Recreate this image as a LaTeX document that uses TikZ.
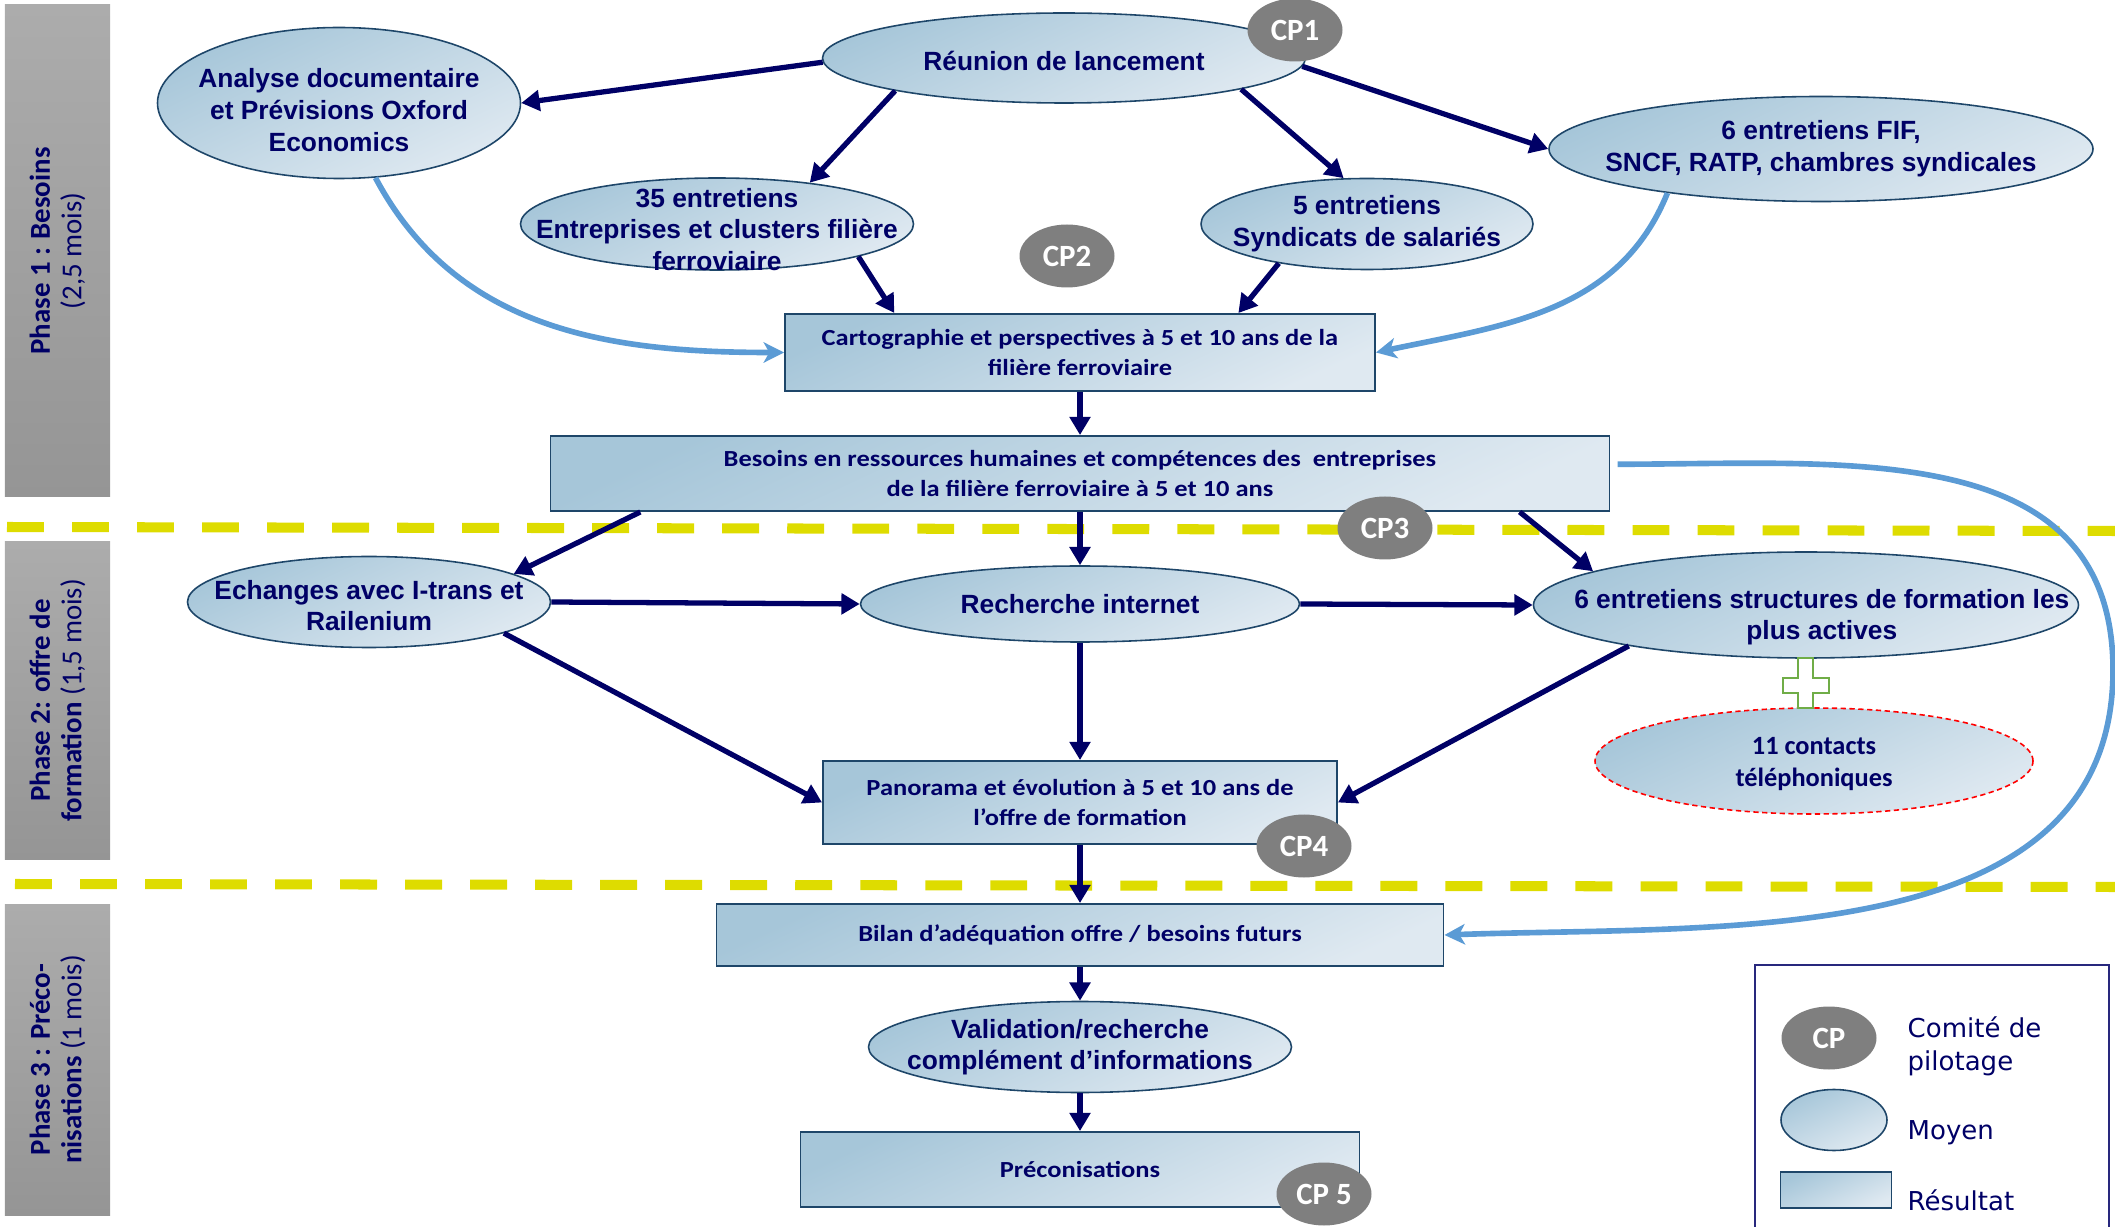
\documentclass[tikz,border=0pt]{standalone}
\usepackage{fontspec}
\setmainfont{Carlito}
\newfontfamily\arialfont{Liberation Sans}
\newfontfamily\resfont[FakeStretch=1.15]{Carlito}
\newfontfamily\legfont{DejaVu Sans}
\usetikzlibrary{shapes.geometric,arrows.meta}

\definecolor{navy}{RGB}{0,0,102}
\definecolor{moyA}{RGB}{166,198,217}
\definecolor{moyB}{RGB}{223,233,241}
\definecolor{bord}{RGB}{30,70,105}
\definecolor{cpgris}{RGB}{127,127,127}
\definecolor{phA}{RGB}{172,172,172}
\definecolor{phB}{RGB}{149,149,149}
\definecolor{lienbleu}{RGB}{91,155,213}
\definecolor{jaune}{RGB}{222,220,0}
\definecolor{vert}{RGB}{112,173,71}
\definecolor{legbord}{RGB}{40,40,125}

\tikzset{
	moyen/.style={ellipse, draw=bord, line width=0.45pt, top color=moyA, bottom color=moyB, shading angle=25, inner sep=0pt},
	moytxt/.style={font=\arialfont\bfseries\fontsize{7.5}{9}\selectfont, text=navy, align=center},
	resultat/.style={rectangle, draw=bord, line width=0.55pt, top color=moyA, bottom color=moyB, shading angle=25, inner sep=0pt, font=\resfont\bfseries\fontsize{6.55}{8.8}\selectfont, text=navy, align=center},
	cp/.style={ellipse, fill=cpgris, inner sep=0pt, minimum width=0.95cm, minimum height=0.63cm, text=white, font=\bfseries\fontsize{8.8}{10}\selectfont},
	phase/.style={rectangle, rotate=90, top color=phA, bottom color=phB, inner sep=0pt, minimum height=1.05cm, text=navy, align=center, font=\fontsize{8.2}{9}\selectfont},
	fleche/.style={draw=navy, line width=1.5pt, -{Triangle[length=5.2pt,width=5.8pt]}},
	retour/.style={draw=lienbleu, line width=1.6pt, -{Stealth[length=5.8pt,width=5.8pt,inset=1.6pt]}},
	separ/.style={draw=jaune, line width=2.85pt, dash pattern=on 10.5pt off 8pt},
	legtxt/.style={anchor=west, inner sep=0pt, text=navy, align=left, font=\legfont\fontsize{7.4}{9.4}\selectfont},
}

\begin{document}
\begin{tikzpicture}
	\useasboundingbox (0,0) rectangle (21.15,12.26);

	% Separateurs
	\draw[separ] (0.07,6.99) -- (21.15,6.95);
	\draw[separ] (0.15,3.42) -- (21.15,3.39);

	% Phases
	\node[phase, minimum width=4.92cm] (ph1) at (0.575,9.75) {\textbf{Phase 1 : Besoins}\\(2,5 mois)};
	\node[phase, minimum width=3.17cm] (ph2) at (0.575,5.255) {\textbf{Phase 2: offre de}\\\textbf{formation} (1,5 mois)};
	\node[phase, minimum width=3.11cm] (ph3) at (0.575,1.665) {\textbf{Phase 3 : Préco-}\\\textbf{nisations} (1 mois)};

	% Nodes
	\node[moyen, minimum width=4.83cm, minimum height=0.90cm, label={[moytxt, yshift=-0.8pt]center:Réunion de lancement}] (reunion) at (10.64,11.68) {};
	\node[moyen, minimum width=3.63cm, minimum height=1.51cm, label={[moytxt, yshift=-2pt]center:{Analyse documentaire\\et Prévisions Oxford\\Economics}}] (analyse) at (3.39,11.23) {};
	\node[moyen, minimum width=3.93cm, minimum height=0.92cm, label={[moytxt, yshift=-1.5pt]center:{35 entretiens\\Entreprises et clusters filière\\ferroviaire}}] (e35) at (7.17,10.02) {};
	\node[moyen, minimum width=3.32cm, minimum height=0.91cm, label={[moytxt]center:{5 entretiens\\Syndicats de salariés}}] (e5) at (13.67,10.02) {};
	\node[moyen, minimum width=5.44cm, minimum height=1.05cm, label={[moytxt]center:{6 entretiens FIF,\\SNCF, RATP, chambres syndicales}}] (e6fif) at (18.21,10.77) {};
	\node[resultat, minimum width=5.90cm, minimum height=0.77cm] (carto) at (10.80,8.735) {Cartographie et perspectives à 5 et 10 ans de la\\filière ferroviaire};
	\node[resultat, minimum width=10.59cm, minimum height=0.75cm] (besoins) at (10.80,7.525) {Besoins en ressources humaines et compétences des~ entreprises\\de la filière ferroviaire à 5 et 10 ans};
	\node[moyen, minimum width=3.63cm, minimum height=0.91cm, label={[moytxt, yshift=-1pt]center:{Echanges avec I-trans et\\Railenium}}] (echanges) at (3.69,6.24) {};
	\node[moyen, minimum width=4.39cm, minimum height=0.76cm, label={[moytxt]center:Recherche internet}] (recherche) at (10.80,6.22) {};
	\node[moyen, minimum width=5.45cm, minimum height=1.06cm, label={[moytxt, xshift=4.5pt, yshift=-3.5pt]center:{6 entretiens structures de formation les\\plus actives}}] (e6form) at (18.06,6.21) {};
	\node[moyen, draw=red, dash pattern=on 1.5pt off 1pt, minimum width=4.38cm, minimum height=1.06cm, label={[moytxt, font=\bfseries\fontsize{7.5}{9}\selectfont, yshift=-0.8pt]center:{11 contacts\\téléphoniques}}] (contacts) at (18.14,4.65) {};
	\node[resultat, minimum width=5.14cm, minimum height=0.83cm] (panorama) at (10.80,4.235) {Panorama et évolution à 5 et 10 ans de\\l’offre de formation};
	\node[resultat, minimum width=7.27cm, minimum height=0.62cm] (bilan) at (10.80,2.91) {Bilan d’adéquation offre / besoins futurs};
	\node[moyen, minimum width=4.23cm, minimum height=0.91cm, label={[moytxt]center:{Validation/recherche\\complément d’informations}}] (validation) at (10.80,1.79) {};
	\node[resultat, minimum width=5.59cm, minimum height=0.75cm] (precon) at (10.80,0.565) {Préconisations};

	% Comites de pilotage
	\node[cp] (cp1) at (12.95,11.96) {CP1};
	\node[cp] (cp2) at (10.67,9.70) {CP2};
	\node[cp] (cp3) at (13.85,6.98) {CP3};
	\node[cp] (cp4) at (13.04,3.80) {CP4};
	\node[cp] (cp5) at (13.24,0.32) {CP 5};

	% Plus
	\draw[draw=vert, fill=white, line width=0.8pt] (17.98,5.68) -- (18.13,5.68) -- (18.13,5.48) -- (18.29,5.48) -- (18.29,5.33) -- (18.13,5.33) -- (18.13,5.18) -- (17.98,5.18) -- (17.98,5.33) -- (17.83,5.33) -- (17.83,5.48) -- (17.98,5.48) -- cycle;

	% Arrows
	\draw[fleche] (reunion.181) -- (analyse.east);
	\draw[fleche] (reunion.191) -- (e35.24);
	\draw[fleche] (reunion.350) -- (e5.117);
	\draw[fleche] (reunion.358) -- (e6fif.west);
	\draw[fleche] (e35.347) -- (carto.168);
	\draw[fleche] (e5.204) -- (carto.14);
	\draw[fleche] (carto.south) -- (besoins.north);
	\draw[fleche] (besoins.185) -- (echanges.11);
	\draw[fleche] (besoins.south) -- (recherche.north);
	\draw[fleche] (besoins.355) -- (e6form.171);
	\draw[fleche] (echanges.east) -- (recherche.west);
	\draw[fleche] (recherche.east) -- (e6form.west);
	\draw[fleche] (echanges.347) -- (panorama.west);
	\draw[fleche] (recherche.south) -- (panorama.north);
	\draw[fleche] (e6form.193) -- (panorama.east);
	\draw[fleche] (panorama.south) -- (bilan.north);
	\draw[fleche] (bilan.south) -- (validation.north);
	\draw[fleche] (validation.south) -- (precon.north);

	% Retours
	\draw[retour] (analyse.296) to[out=-62, in=180] (carto.west);
	\draw[retour] (e6fif.196) to[out=-112, in=12] (carto.east);
	\coordinate (boucle) at (21.13,5.56);
	\draw[retour, shorten <=2pt] (besoins.1) to[out=0, in=90, looseness=1.1] (boucle) to[out=-90, in=2] (bilan.east);

	% Legende
	\draw[draw=legbord, line width=0.8pt] (17.55,2.61) rectangle (21.09,-0.2);
	\node[cp] (legcp) at (18.29,1.88) {CP};
	\node[moyen, minimum width=1.06cm, minimum height=0.61cm] (legmoy) at (18.34,1.06) {};
	\node[resultat, minimum width=1.11cm, minimum height=0.36cm] (legres) at (18.36,0.36) {};
	\node[legtxt] (legcptxt) at (19.07,1.80) {Comité de\\pilotage};
	\node[legtxt] (legmoytxt) at (19.07,0.93) {Moyen};
	\node[legtxt] (legrestxt) at (19.07,0.26) {Résultat};
\end{tikzpicture}
\end{document}
